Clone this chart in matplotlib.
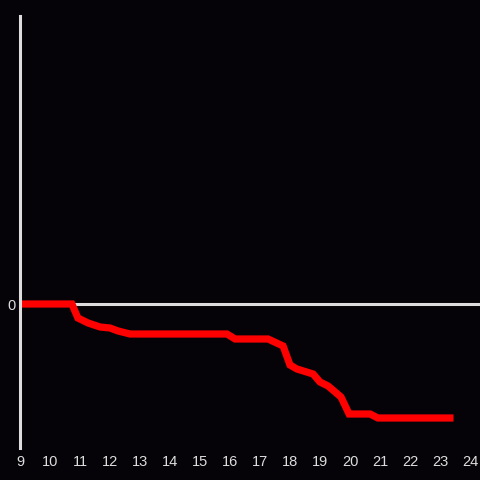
import matplotlib.pyplot as plt

# hours of day and cumulative change (arbitrary units)
hours = [9, 10.73, 10.93, 11.27, 11.67, 12.0, 12.27, 12.67, 15.9, 16.17, 17.27,
         17.77, 18.0, 18.23, 18.77, 19.0, 19.27, 19.7, 19.97, 20.67, 20.93, 23.33]
values = [0, 0, -14, -19, -23, -24, -27, -30, -30, -35, -35,
          -42, -61, -65, -70, -78, -82, -93, -110, -110, -114, -114]
xticks = list(range(9, 25))

bg = '#050308'
fg = '#dddddd'

plt.rcParams['font.family'] = ['Liberation Sans', 'DejaVu Sans']
fig = plt.figure(figsize=(4.8, 4.8), dpi=100, facecolor=bg)
ax = fig.add_axes([20/480, 32/480, 460/480, 432/480])
ax.set_facecolor(bg)

ax.axhline(0, color=fg, lw=2.2, zorder=1)
ax.plot(hours, values, color='#ff0000', lw=5.2, solid_joinstyle='miter', zorder=2)

ax.set_xlim(9, 9 + 460/30)
ax.set_ylim(-144, 288)
ax.set_xticks(xticks)
ax.set_xticklabels([str(t) for t in xticks])
ax.set_yticks([0])
ax.tick_params(length=0, colors=fg, labelsize=10.5)
ax.tick_params(axis='x', pad=5)
ax.tick_params(axis='y', pad=3.5)

for s in ['top', 'right', 'bottom']:
    ax.spines[s].set_visible(False)
ax.spines['left'].set_color(fg)
ax.spines['left'].set_linewidth(2.2)

fig.savefig('out.png', facecolor=bg)
